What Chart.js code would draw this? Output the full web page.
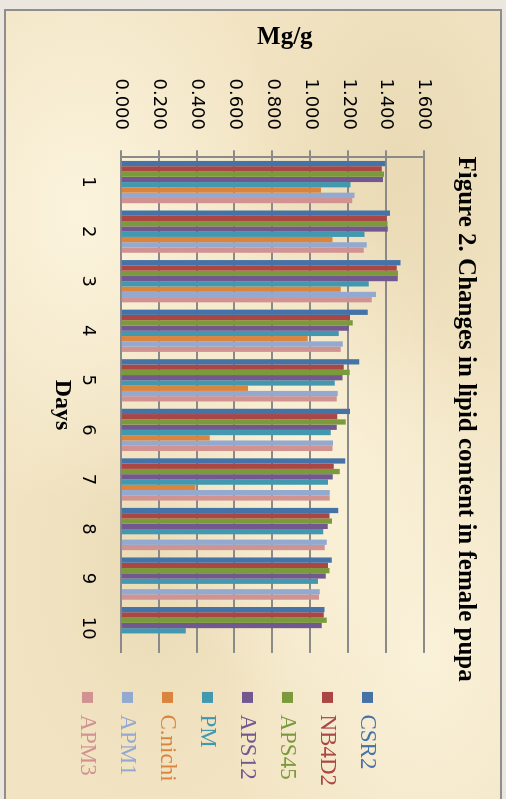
<!DOCTYPE html>
<html>
<head>
<meta charset="utf-8">
<script src="https://cdn.jsdelivr.net/npm/chart.js@4.4.1/dist/chart.umd.min.js"></script>
<style>
  html, body { margin: 0; padding: 0; }
  body { width: 506px; height: 799px; overflow: hidden; background: #ebe7de; position: relative; }
  .frame {
    position: absolute; left: 4px; top: 9px; width: 494px; height: 800px;
    border: 2px solid #8e8e8e; overflow: hidden;
    background:
      radial-gradient(ellipse at 15% 25%, rgba(255,250,232,0.7), transparent 35%),
      radial-gradient(ellipse at 60% 55%, rgba(255,249,228,0.6), transparent 40%),
      radial-gradient(ellipse at 85% 80%, rgba(255,250,232,0.6), transparent 35%),
      radial-gradient(ellipse at 80% 20%, rgba(215,195,150,0.3), transparent 30%),
      radial-gradient(ellipse at 30% 70%, rgba(215,195,150,0.25), transparent 30%),
      #f2e4c3;
  }
  .rot {
    position: absolute; left: 0; top: 0; width: 790px; height: 494px;
    transform-origin: 0 0; transform: translate(494px, 0) rotate(90deg);
  }
</style>
</head>
<body>
<div class="frame">
  <div class="rot"><canvas id="lipidChart" width="790" height="494"></canvas></div>
</div>
<script>
  const days = ['1', '2', '3', '4', '5', '6', '7', '8', '9', '10'];
  const valueTicks = ['0.000', '0.200', '0.400', '0.600', '0.800', '1.000', '1.200', '1.400', '1.600'];

  const csr2   = [1.395, 1.421, 1.476, 1.303, 1.258, 1.210, 1.184, 1.148, 1.113, 1.075];
  const nb4d2  = [1.377, 1.403, 1.456, 1.210, 1.177, 1.143, 1.124, 1.101, 1.094, 1.071];
  const aps45  = [1.389, 1.407, 1.463, 1.224, 1.208, 1.187, 1.156, 1.115, 1.101, 1.087];
  const aps12  = [1.384, 1.409, 1.462, 1.203, 1.170, 1.140, 1.119, 1.092, 1.082, 1.061];
  const pm     = [1.212, 1.286, 1.309, 1.150, 1.129, 1.108, 1.094, 1.069, 1.041, 0.343];
  const cnichi = [1.057, 1.117, 1.161, 0.987, 0.672, 0.470, 0.394, null, null, null];
  const apm1   = [1.233, 1.298, 1.347, 1.171, 1.145, 1.120, 1.103, 1.087, 1.050, null];
  const apm3   = [1.222, 1.282, 1.325, 1.161, 1.140, 1.117, 1.103, 1.077, 1.046, null];

  const gridGray = '#8a8a8a';
  const serif = "'Liberation Serif', 'Times New Roman', serif";
  const sans = "'DejaVu Sans', sans-serif";

  function series(label, data, color) {
    return { label, data, backgroundColor: color, borderWidth: 0 };
  }

  const ctx = document.getElementById('lipidChart');

  new Chart(ctx, {
    type: 'bar',
    data: {
      labels: days,
      datasets: [
        series('CSR2', csr2, '#4572a7'),
        series('NB4D2', nb4d2, '#aa4643'),
        series('APS45', aps45, '#7b9a3c'),
        series('APS12', aps12, '#71588f'),
        series('PM', pm, '#4198af'),
        series('C.nichi', cnichi, '#db843d'),
        series('APM1', apm1, '#93a9cf'),
        series('APM3', apm3, '#d19392')
      ]
    },
    options: {
      responsive: false,
      animation: false,
      categoryPercentage: 0.853,
      barPercentage: 1.0,
      layout: { padding: { left: 0, right: 5, top: 0, bottom: 0 } },
      plugins: {
        tooltip: { enabled: false },
        title: {
          display: true,
          // leading spaces nudge the centred title towards the legend side, as in the original
          text: '     Figure 2. Changes in lipid content in female pupa',
          color: '#000',
          font: { family: serif, size: 25, weight: 'bold' },
          padding: { top: 20, bottom: 26 }
        },
        legend: {
          position: 'right',
          align: 'center',
          title: { display: true, text: ' ', padding: 0, font: { size: 51, lineHeight: 1 } },
          labels: {
            boxWidth: 11,
            boxHeight: 11,
            padding: 17,
            font: { family: serif, size: 23 },
            generateLabels: chart =>
              Chart.defaults.plugins.legend.labels.generateLabels(chart).map(item =>
                Object.assign(item, { fontColor: item.fillStyle, lineWidth: 0 }))
          }
        }
      },
      scales: {
        x: {
          grid: { display: false, drawTicks: false },
          border: { display: true, color: gridGray, width: 2 },
          ticks: { color: '#000', padding: 22, font: { family: sans, size: 18 } },
          title: {
            display: true,
            text: 'Days',
            color: '#000',
            font: { family: serif, size: 24, weight: 'bold' },
            padding: { top: 0, bottom: 41.6 }
          },
          afterFit: s => { s.height = 114.7; }
        },
        y: {
          min: 0,
          max: 1.6,
          ticks: {
            stepSize: 0.2,
            color: '#000',
            padding: 20.3,
            font: { family: sans, size: 18 },
            callback: (v, i) => valueTicks[i]
          },
          grid: { color: gridGray, lineWidth: 2, tickLength: 7 },
          border: { display: true, color: gridGray, width: 2 },
          title: {
            display: true,
            text: '    Mg/g',
            color: '#000',
            font: { family: serif, size: 25, weight: 'bold' },
            padding: { top: 11.5, bottom: 0 }
          },
          afterFit: s => { s.width = 146.3; }
        },
        spacer: {
          type: 'linear',
          position: 'right',
          grid: { display: false },
          border: { display: false },
          ticks: { display: false },
          afterFit: s => { s.width = 22; }
        }
      }
    }
  });
</script>
</body>
</html>
